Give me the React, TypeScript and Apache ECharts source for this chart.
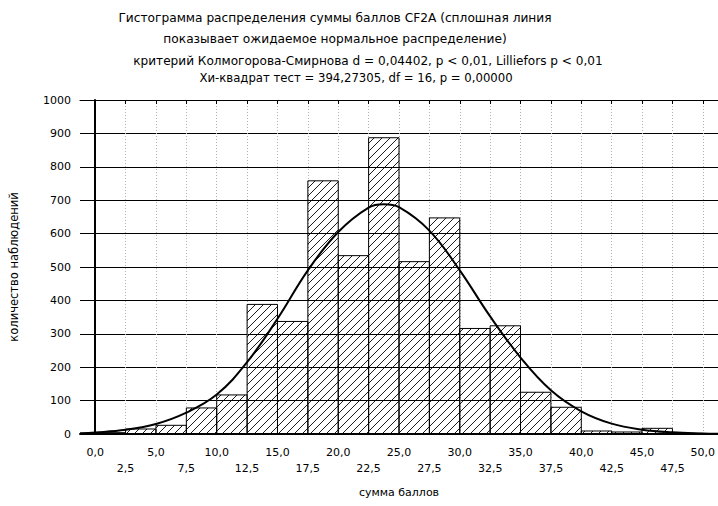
import React, { useEffect, useRef } from "react";
import * as echarts from "echarts";

const TITLE_LINES = [
  "Гистограмма распределения суммы баллов CF2A (сплошная линия",
  "показывает ожидаемое нормальное распределение)",
  "критерий Колмогорова-Смирнова d = 0,04402, p < 0,01, Lilliefors p < 0,01",
  "Хи-квадрат тест = 394,27305, df = 16, p = 0,00000",
];
const X_NAME = "сумма баллов";
const Y_NAME = "количество наблюдений";

const BIN_WIDTH = 2.5;
const BIN_STARTS = [0, 2.5, 5, 7.5, 10, 12.5, 15, 17.5, 20, 22.5, 25, 27.5, 30, 32.5, 35, 37.5, 40, 42.5, 45, 47.5];
const COUNTS = [4, 15, 26, 78, 117, 388, 337, 758, 534, 887, 516, 647, 316, 324, 125, 80, 9, 6, 17, 2];

const CURVE_X = [-1.25, 0, 2.5, 5, 7.5, 10, 12.5, 15, 17.5, 20, 22.5, 23.75, 25, 27.5, 30, 32.5, 35, 37.5, 40, 42.5, 45, 47.5, 50, 51.25];
const CURVE_Y = [2.5, 4.6, 12.5, 30, 64, 118, 215, 345, 490, 605, 678, 688, 679, 609, 490, 352, 229, 131, 68, 31, 13, 5, 1.6, 0.8];

const X_TICKS = [0, 2.5, 5, 7.5, 10, 12.5, 15, 17.5, 20, 22.5, 25, 27.5, 30, 32.5, 35, 37.5, 40, 42.5, 45, 47.5, 50];
const Y_TICKS = [0, 100, 200, 300, 400, 500, 600, 700, 800, 900, 1000];

const FONT = "'DejaVu Sans', 'Liberation Sans', Arial, sans-serif";

export default function App() {
  const ref = useRef<HTMLDivElement>(null);
  useEffect(() => {
    if (!ref.current) return;
    const chart = echarts.init(ref.current, undefined, { renderer: "svg" });
    const HATCH = 8;
    const renderBar = (params: any, api: any) => {
      const x0 = api.value(0);
      const v = api.value(1);
      const p0 = api.coord([x0, v]);
      const p1 = api.coord([x0 + BIN_WIDTH, 0]);
      const L = p0[0], T = p0[1], R = p1[0], B = p1[1];
      const children: any[] = [];
      const cStart = Math.ceil((L + T) / HATCH) * HATCH;
      for (let c = cStart; c <= R + B; c += HATCH) {
        const xs = Math.max(L, c - B);
        const xe = Math.min(R, c - T);
        if (xe - xs > 0.3) {
          children.push({
            type: "line",
            shape: { x1: xs, y1: c - xs, x2: xe, y2: c - xe },
            style: { stroke: "#000", lineWidth: 0.9 },
            silent: true,
          });
        }
      }
      children.push({
        type: "rect",
        shape: { x: L, y: T, width: R - L, height: B - T },
        style: { fill: "none", stroke: "#000", lineWidth: 1 },
      });
      return { type: "group", children };
    };
    const fmt = (v: number) => v.toFixed(1).replace(".", ",");
    chart.setOption({
      animation: false,
      backgroundColor: "#fff",
      textStyle: { fontFamily: FONT },
      title: TITLE_LINES.map((t, i) => ({
        text: t,
        left: [330, 330, 363, 351][i],
        top: [7, 28, 50, 67][i],
        textAlign: "center",
        textStyle: {
          fontFamily: FONT,
          fontSize: [12.2, 12.2, 12.1, 11.7][i],
          fontWeight: "normal",
          color: "#000",
        },
      })),
      grid: { left: 77, right: 0, top: 100, bottom: 72 },
      xAxis: [
        {
          type: "value",
          min: -1.25,
          max: 51.25,
          name: X_NAME,
          nameLocation: "middle",
          nameGap: 53,
          nameTextStyle: { fontFamily: FONT, fontSize: 11, color: "#000" },
          axisLine: { show: true, onZero: false, lineStyle: { color: "#000", width: 2 } },
          axisTick: { show: false, customValues: X_TICKS },
          axisLabel: {
            customValues: X_TICKS,
            fontFamily: FONT,
            fontSize: 11,
            color: "#000",
            margin: 10,
            lineHeight: 16,
            formatter: (v: number) => {
              const idx = Math.round(v / 2.5);
              return idx % 2 === 1 ? "\n" + fmt(v) : fmt(v);
            },
          },
          splitLine: { show: true, lineStyle: { color: "#b0b0b0", type: [1, 2], width: 1 } },
        },
        {
          type: "value",
          position: "top",
          min: -1.25,
          max: 51.25,
          axisLine: { show: true, onZero: false, lineStyle: { color: "#000", width: 1 } },
          axisTick: { show: true, inside: true, length: 4, customValues: X_TICKS, lineStyle: { color: "#000" } },
          axisLabel: { show: false, customValues: X_TICKS },
          splitLine: { show: false },
        },
      ],
      yAxis: {
        type: "value",
        min: 0,
        max: 1000,
        interval: 100,
        name: Y_NAME,
        nameLocation: "middle",
        nameGap: 60,
        nameTextStyle: { fontFamily: FONT, fontSize: 11.5, color: "#000" },
        axisLine: { show: true, lineStyle: { color: "#000", width: 2 } },
        axisTick: { show: false },
        axisLabel: {
          fontFamily: FONT,
          fontSize: 11,
          color: "#000",
          margin: 9,
          formatter: (v: number) => (Y_TICKS.includes(v) ? String(v) : ""),
        },
        splitLine: { show: true, lineStyle: { color: "#000", width: 1 } },
      },
      series: [
        {
          type: "custom",
          xAxisIndex: 0,
          renderItem: renderBar,
          data: BIN_STARTS.map((s, i) => [s, COUNTS[i]]),
          encode: { x: 0, y: 1 },
          clip: true,
          z: 2,
        },
        {
          type: "line",
          xAxisIndex: 0,
          data: CURVE_X.map((x, i) => [x, CURVE_Y[i]]),
          smooth: 0.4,
          showSymbol: false,
          symbol: "none",
          lineStyle: { color: "#000", width: 2 },
          clip: true,
          z: 3,
        },
      ],
    });
    return () => chart.dispose();
  }, []);
  return (
    <div
      ref={ref}
      style={{ position: "fixed", left: 0, top: 0, width: 718, height: 506, background: "#fff" }}
    />
  );
}
